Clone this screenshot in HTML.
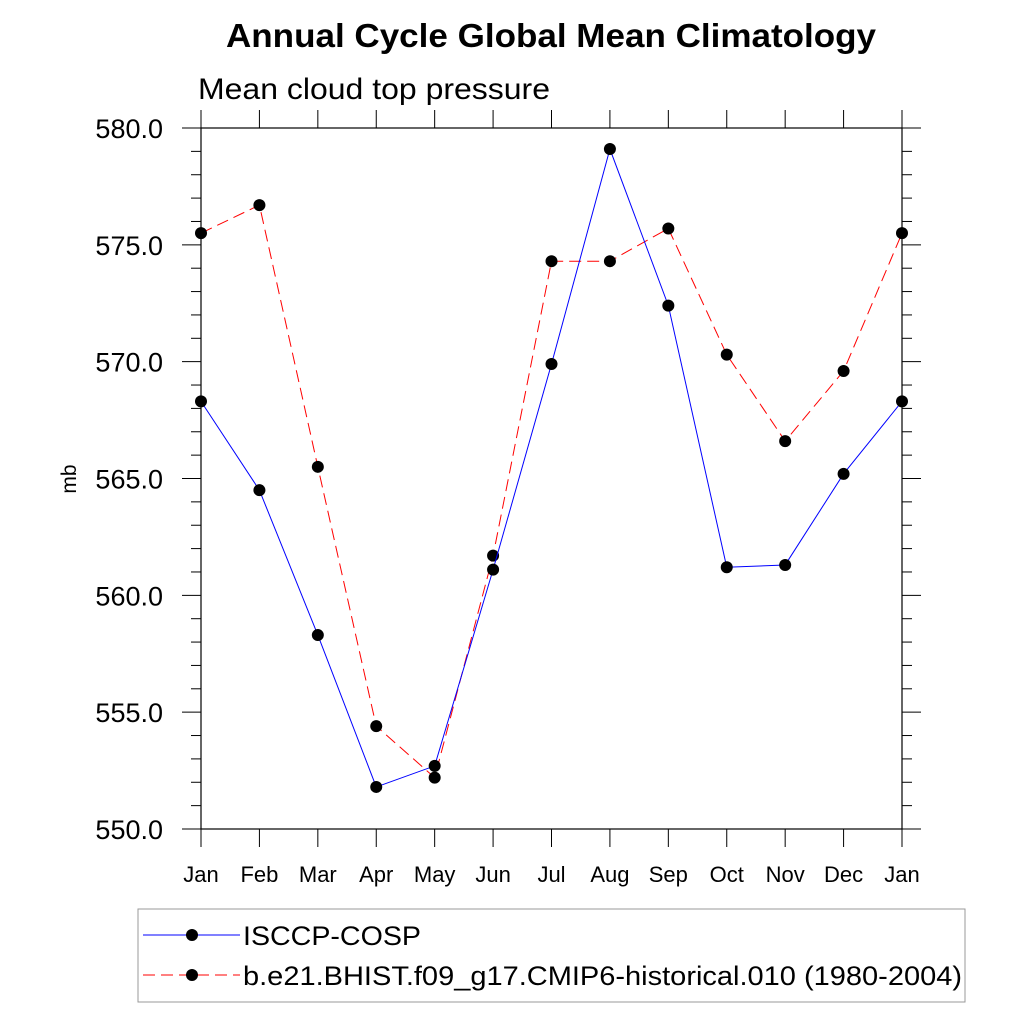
<!DOCTYPE html>
<html><head><meta charset="utf-8"><style>
body{margin:0;background:#fff;}
svg{font-family:"Liberation Sans",sans-serif;}
</style></head><body>
<svg width="1024" height="1024" viewBox="0 0 1024 1024">
<text x="551" y="47" text-anchor="middle" font-size="33" font-weight="bold" textLength="650" lengthAdjust="spacingAndGlyphs">Annual Cycle Global Mean Climatology</text>
<text x="198" y="99" font-size="30" textLength="352" lengthAdjust="spacingAndGlyphs">Mean cloud top pressure</text>
<text transform="translate(76,479) rotate(-90)" text-anchor="middle" font-size="21">mb</text>
<g id="axes"></g>
<g id="series"></g>
<g>
<rect x="138" y="909" width="827" height="93" fill="#fff" stroke="#999" stroke-width="1"/>
<g>
<line x1="143" y1="935" x2="240" y2="935" stroke="#0000ff" stroke-width="1"/>
<circle cx="192" cy="935" r="6" fill="#000"/>
<text x="243" y="945" font-size="27" textLength="178" lengthAdjust="spacingAndGlyphs">ISCCP-COSP</text></g>
<g>
<line x1="143" y1="975" x2="240" y2="975" stroke="#ff0000" stroke-width="1" stroke-dasharray="12,6"/>
<circle cx="192" cy="975" r="6" fill="#000"/>
<text x="243" y="985" font-size="27" textLength="719" lengthAdjust="spacingAndGlyphs">b.e21.BHIST.f09_g17.CMIP6-historical.010 (1980-2004)</text></g>
</g>
</svg>
<script>
const months=["Jan","Feb","Mar","Apr","May","Jun","Jul","Aug","Sep","Oct","Nov","Dec","Jan"];
const isccp=[568.3,564.5,558.3,551.8,552.7,561.1,569.9,579.1,572.4,561.2,561.3,565.2,568.3];
const model=[575.5,576.7,565.5,554.4,552.2,561.7,574.3,574.3,575.7,570.3,566.6,569.6,575.5];
const yTicks=["550.0","555.0","560.0","565.0","570.0","575.0","580.0"];
const NS="http://www.w3.org/2000/svg";
const X0=201,X1=902,Y0=829,Y1=128,VMIN=550,VMAX=580;
function xs(i){return X0+(X1-X0)*i/(months.length-1);}
function ys(v){return Y0-(Y0-Y1)*(v-VMIN)/(VMAX-VMIN);}
function mk(t,a,p){const e=document.createElementNS(NS,t);for(const k in a)e.setAttribute(k,a[k]);p.appendChild(e);return e;}
const ax=document.getElementById('axes');
const fr=mk('rect',{x:X0,y:Y1,width:X1-X0,height:Y0-Y1,fill:'none',stroke:'#000','stroke-width':1.2},ax);


for(let v=VMIN;v<=VMAX;v++){const y=ys(v);const maj=(v%5===0);const L=maj?19:10;
mk('line',{x1:X0-L,y1:y,x2:X0,y2:y,stroke:'#000','stroke-width':1},ax);
mk('line',{x1:X1,y1:y,x2:X1+L,y2:y,stroke:'#000','stroke-width':1},ax);}
yTicks.forEach(t=>{const tx=mk('text',{x:163,y:ys(parseFloat(t))+10,'text-anchor':'end','font-size':27},ax);tx.textContent=t;

});
months.forEach((m,i)=>{const x=xs(i);
mk('line',{x1:x,y1:Y1-18,x2:x,y2:Y1,stroke:'#000','stroke-width':1},ax);
mk('line',{x1:x,y1:Y0,x2:x,y2:Y0+18,stroke:'#000','stroke-width':1},ax);
const tx=mk('text',{x:x,y:882,'text-anchor':'middle','font-size':22},ax);tx.textContent=m;

});
const sg=document.getElementById('series');
function draw(vals,color,dash,name){
const pts=vals.map((v,i)=>xs(i)+','+ys(v)).join(' ');
const pl=mk('polyline',{points:pts,fill:'none',stroke:color,'stroke-width':1,'stroke-dasharray':dash},sg);


vals.forEach((v,i)=>{const c=mk('circle',{cx:xs(i),cy:ys(v),r:6,fill:'#000'},sg);

});}
draw(model,'#ff0000','12,6','model');
draw(isccp,'#0000ff','none','isccp');
</script>
</body></html>
